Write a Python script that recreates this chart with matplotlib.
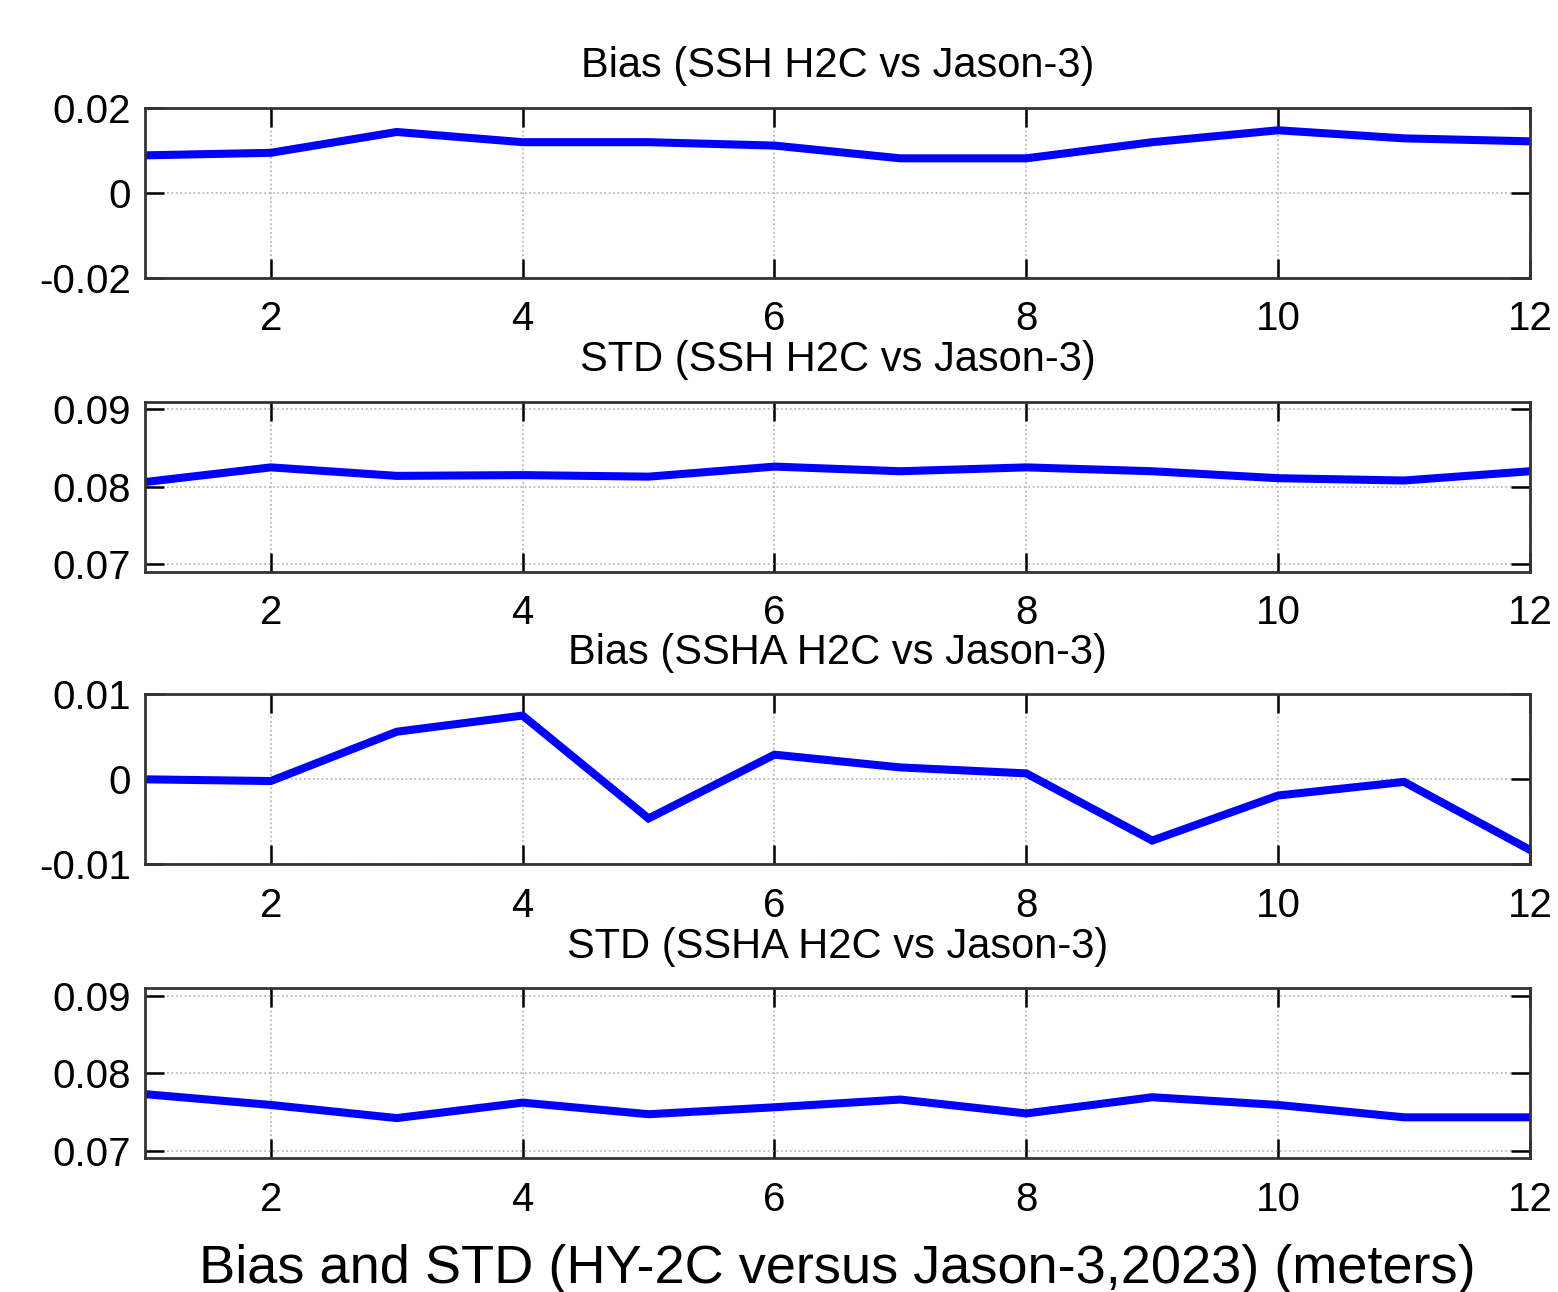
import matplotlib
matplotlib.use("Agg")
import matplotlib.pyplot as plt

months = [1, 2, 3, 4, 5, 6, 7, 8, 9, 10, 11, 12]

bias_ssh = [0.0088, 0.0094, 0.0143, 0.0119, 0.0119, 0.0111, 0.0081, 0.0081, 0.0119, 0.0147, 0.0128, 0.0121]
std_ssh = [0.0806, 0.0825, 0.0814, 0.0815, 0.0813, 0.0826, 0.0820, 0.0825, 0.0820, 0.0811, 0.0808, 0.0820]
bias_ssha = [0.0000, -0.0002, 0.0056, 0.0075, -0.0046, 0.0029, 0.0014, 0.0007, -0.0072, -0.0019, -0.0003, -0.0083]
std_ssha = [0.0773, 0.0759, 0.0742, 0.0762, 0.0747, 0.0756, 0.0766, 0.0748, 0.0769, 0.0759, 0.0743, 0.0743]

titles = [
    "Bias (SSH H2C vs Jason-3)",
    "STD (SSH H2C vs Jason-3)",
    "Bias (SSHA H2C vs Jason-3)",
    "STD (SSHA H2C vs Jason-3)",
]
series = [bias_ssh, std_ssh, bias_ssha, std_ssha]
ylims = [(-0.02, 0.02), (0.069, 0.091), (-0.01, 0.01), (0.069, 0.091)]
yticks = [[-0.02, 0, 0.02], [0.07, 0.08, 0.09], [-0.01, 0, 0.01], [0.07, 0.08, 0.09]]
ytick_labels = [["-0.02", "0", "0.02"], ["0.07", "0.08", "0.09"],
                ["-0.01", "0", "0.01"], ["0.07", "0.08", "0.09"]]
xticks = [2, 4, 6, 8, 10, 12]

plt.rcParams["font.family"] = ["Liberation Sans", "DejaVu Sans"]

fig = plt.figure(figsize=(15.58, 12.92), dpi=100)
left, width = 0.093, 0.889
bottoms = [0.785, 0.5575, 0.331, 0.1035]
height = 0.1316

for k in range(4):
    ax = fig.add_axes([left, bottoms[k], width, height])
    ax.plot(months, series[k], color="#0000ff", lw=5.8, solid_joinstyle="miter")
    ax.set_xlim(1, 12)
    ax.set_ylim(*ylims[k])
    ax.set_xticks(xticks)
    ax.set_yticks(yticks[k])
    ax.set_yticklabels(ytick_labels[k])
    ax.grid(True, color="#b0b0b0", linestyle=":", linewidth=1.2)
    ax.tick_params(direction="in", length=14, width=1.8, top=True, right=True,
                   labelsize=29, colors="black")
    ax.tick_params(axis="y", pad=10)
    ax.tick_params(axis="x", pad=16)
    for s in ax.spines.values():
        s.set_linewidth(2)
        s.set_color("#333333")
    ax.set_title(titles[k], fontsize=30, pad=22)
    if k == 3:
        ax.set_xlabel("Bias and STD (HY-2C versus Jason-3,2023) (meters)",
                      fontsize=39, labelpad=18)

plt.savefig("out.png", dpi=100)
